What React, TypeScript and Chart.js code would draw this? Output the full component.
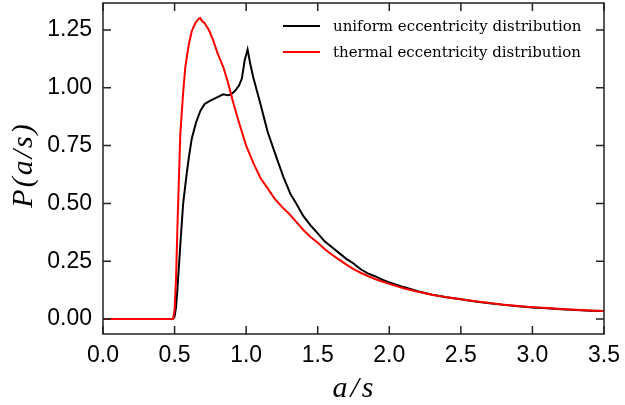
import React, { useEffect, useRef } from "react";
import { Chart, registerables } from "chart.js";
Chart.register(...registerables);

const uniformX = [0, 0.1, 0.2, 0.3, 0.4, 0.45, 0.49, 0.5, 0.51, 0.52, 0.54, 0.56, 0.585, 0.6, 0.62, 0.65, 0.68, 0.71, 0.75, 0.8, 0.84, 0.87, 0.89, 0.92, 0.95, 0.97, 0.99, 1.01, 1.03, 1.05, 1.1, 1.15, 1.2, 1.26, 1.31, 1.35, 1.4, 1.45, 1.5, 1.55, 1.6, 1.65, 1.7, 1.75, 1.8, 1.85, 1.9, 1.95, 2.0, 2.1, 2.2, 2.3, 2.4, 2.5, 2.6, 2.7, 2.8, 2.9, 3.0, 3.1, 3.2, 3.3, 3.4, 3.5];
const uniformY = [0, 0, 0, 0, 0, 0, 0, 0.01, 0.05, 0.13, 0.32, 0.5, 0.63, 0.7, 0.78, 0.85, 0.9, 0.93, 0.945, 0.96, 0.972, 0.968, 0.97, 0.985, 1.01, 1.04, 1.12, 1.166, 1.1, 1.045, 0.93, 0.81, 0.72, 0.615, 0.54, 0.5, 0.445, 0.405, 0.37, 0.335, 0.31, 0.285, 0.26, 0.24, 0.215, 0.197, 0.185, 0.17, 0.158, 0.138, 0.12, 0.105, 0.094, 0.085, 0.076, 0.068, 0.061, 0.055, 0.05, 0.046, 0.042, 0.039, 0.036, 0.034];

const thermalX = [0, 0.1, 0.2, 0.3, 0.4, 0.45, 0.49, 0.5, 0.51, 0.52, 0.53, 0.54, 0.56, 0.575, 0.6, 0.62, 0.645, 0.67, 0.68, 0.69, 0.71, 0.74, 0.77, 0.8, 0.84, 0.87, 0.91, 0.95, 1.0, 1.05, 1.1, 1.15, 1.2, 1.25, 1.3, 1.35, 1.4, 1.45, 1.5, 1.55, 1.6, 1.65, 1.7, 1.75, 1.8, 1.85, 1.9, 1.95, 2.0, 2.1, 2.2, 2.3, 2.4, 2.5, 2.6, 2.7, 2.8, 2.9, 3.0, 3.1, 3.2, 3.3, 3.4, 3.5];
const thermalY = [0, 0, 0, 0, 0, 0, 0, 0.04, 0.17, 0.4, 0.6, 0.8, 0.98, 1.09, 1.19, 1.245, 1.28, 1.3, 1.302, 1.29, 1.28, 1.25, 1.205, 1.15, 1.09, 1.03, 0.935, 0.85, 0.75, 0.675, 0.61, 0.565, 0.52, 0.485, 0.455, 0.42, 0.385, 0.355, 0.33, 0.302, 0.278, 0.257, 0.235, 0.216, 0.2, 0.186, 0.173, 0.162, 0.152, 0.133, 0.118, 0.105, 0.094, 0.085, 0.077, 0.069, 0.062, 0.056, 0.051, 0.047, 0.043, 0.04, 0.037, 0.035];

const xTicks = [0, 0.5, 1.0, 1.5, 2.0, 2.5, 3.0, 3.5];
const yTicks = [0, 0.25, 0.5, 0.75, 1.0, 1.25];
const seriesLabels = ["uniform eccentricity distribution", "thermal eccentricity distribution"];
const seriesColors = ["#000000", "#ff0000"];
const xTitle = "a/s";
const yTitle = "P(a/s)";

const framePlugin = {
  id: "frameTicksLegend",
  afterDraw(chart: any) {
    const ctx = chart.ctx;
    const { left, right, top, bottom } = chart.chartArea;
    const xs = chart.scales.x;
    const ys = chart.scales.y;
    ctx.save();
    ctx.strokeStyle = "#222";
    ctx.lineWidth = 1.5;
    ctx.strokeRect(left, top, right - left, bottom - top);
    const tl = 8;
    ctx.beginPath();
    xTicks.forEach((v) => {
      const px = xs.getPixelForValue(v);
      ctx.moveTo(px, bottom);
      ctx.lineTo(px, bottom - tl);
      ctx.moveTo(px, top);
      ctx.lineTo(px, top + tl);
    });
    yTicks.forEach((v) => {
      const py = ys.getPixelForValue(v);
      ctx.moveTo(left, py);
      ctx.lineTo(left + tl, py);
      ctx.moveTo(right, py);
      ctx.lineTo(right - tl, py);
    });
    ctx.stroke();

    // legend
    const lx0 = left + 180;
    const lx1 = left + 217;
    const tx = left + 230;
    const rows = [top + 23, top + 49];
    ctx.font = "15px 'DejaVu Serif'";
    ctx.textBaseline = "middle";
    ctx.textAlign = "left";
    seriesLabels.forEach((lab, i) => {
      ctx.strokeStyle = seriesColors[i];
      ctx.lineWidth = 2;
      ctx.beginPath();
      ctx.moveTo(lx0, rows[i]);
      ctx.lineTo(lx1, rows[i]);
      ctx.stroke();
      ctx.fillStyle = "#000";
      ctx.fillText(lab, tx, rows[i] + 1);
    });

    // axis titles
    ctx.fillStyle = "#000";
    ctx.font = "italic 30px 'Liberation Serif'";
    (ctx as any).letterSpacing = "3px";
    ctx.textAlign = "center";
    ctx.textBaseline = "alphabetic";
    ctx.fillText(xTitle, (left + right) / 2 + 1, 397);
    (ctx as any).letterSpacing = "2px";
    ctx.translate(32, 165);
    ctx.rotate(-Math.PI / 2);
    ctx.fillText(yTitle, 0, 0);
    ctx.restore();
  },
};

export default function App() {
  const ref = useRef<HTMLCanvasElement>(null);
  useEffect(() => {
    document.body.style.margin = "0";
    const chart = new Chart(ref.current!, {
      type: "line",
      data: {
        datasets: [
          {
            label: seriesLabels[0],
            data: uniformX.map((x, i) => ({ x, y: uniformY[i] })),
            borderColor: seriesColors[0],
            borderWidth: 2,
            pointRadius: 0,
            tension: 0,
            order: 2,
          },
          {
            label: seriesLabels[1],
            data: thermalX.map((x, i) => ({ x, y: thermalY[i] })),
            borderColor: seriesColors[1],
            borderWidth: 2,
            pointRadius: 0,
            tension: 0,
            order: 1,
          },
        ],
      },
      options: {
        animation: false,
        responsive: false,
        devicePixelRatio: 1,
        layout: { padding: { left: 0, top: 3, right: 21, bottom: 0 } },
        plugins: { legend: { display: false }, tooltip: { enabled: false } },
        scales: {
          x: {
            type: "linear",
            min: 0,
            max: 3.5,
            afterBuildTicks: (s: any) => {
              s.ticks = xTicks.map((v) => ({ value: v }));
            },
            afterFit: (s: any) => {
              s.height = 71;
              s.paddingLeft = 0;
              s.paddingRight = 0;
            },
            grid: { display: false, drawTicks: false },
            border: { display: false },
            ticks: {
              color: "#000",
              padding: 8,
              maxRotation: 0,
              autoSkip: false,
              font: { family: "'Liberation Sans'", size: 23 },
              callback: (v: any) => Number(v).toFixed(1),
            },
          },
          y: {
            type: "linear",
            min: -0.065,
            max: 1.367,
            afterBuildTicks: (s: any) => {
              s.ticks = yTicks.map((v) => ({ value: v }));
            },
            afterFit: (s: any) => {
              s.width = 103;
              s.paddingTop = 0;
              s.paddingBottom = 0;
            },
            grid: { display: false, drawTicks: false },
            border: { display: false },
            ticks: {
              color: "#000",
              padding: 11,
              autoSkip: false,
              font: { family: "'Liberation Sans'", size: 23 },
              callback: (v: any) => Number(v).toFixed(2),
            },
          },
        },
      },
      plugins: [framePlugin],
    });
    return () => chart.destroy();
  }, []);
  return (
    <div style={{ position: "absolute", left: 0, top: 0, width: 625, height: 405 }}>
      <canvas ref={ref} width={625} height={405} />
    </div>
  );
}
